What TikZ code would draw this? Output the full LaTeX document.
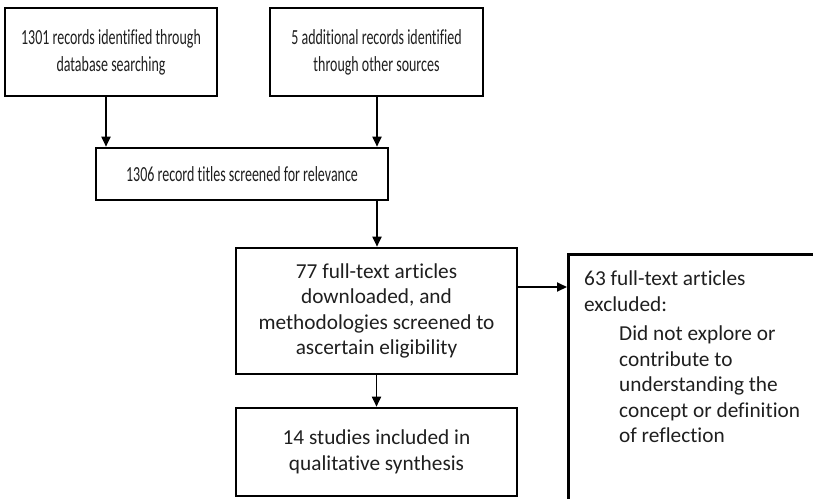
\documentclass[tikz,border=0pt]{standalone}
\usepackage{fontspec}
\setmainfont{Carlito}[RawFeature={-liga;-clig;-calt;-dlig}]
\newfontfamily\condfont{Carlito}[FakeStretch=0.65,RawFeature={-liga;-clig;-calt;-dlig}]
\usetikzlibrary{arrows.meta}
\begin{document}
\begin{tikzpicture}[x=1pt,y=-1pt,
  box/.style={draw=black,line width=2.6pt,rectangle,inner sep=0pt,align=center,text=black!88},
  topfont/.style={font=\condfont\fontsize{21.5}{27}\selectfont},
  botfont/.style={font=\fontsize{21.3}{25.5}\selectfont},
  arr/.style={draw=black,line width=1.8pt,-{Triangle[length=10pt,width=9pt]}}]
\useasboundingbox (0,0) rectangle (813,498);
\clip (0,0) rectangle (813,498);
\node[box,topfont,minimum width=212pt,minimum height=88pt] (box1) at (111,52)
  {1301 records identified through\\database searching};
\node[box,topfont,minimum width=213pt,minimum height=88pt] (box2) at (376.5,52)
  {5 additional records identified\\through other sources};
\node[box,topfont,minimum width=292pt,minimum height=52pt] (box3) at (242,174)
  {1306 record t{}itles screened for relevance};
\node[box,botfont,minimum width=281pt,minimum height=126pt] (box4) at (376.5,311)
  {77 full-text articles\\downloaded, and\\methodologies screened to\\ascertain eligibility};
\node[box,botfont,minimum width=281pt,minimum height=88pt] (box5) at (376.5,452)
  {14 studies included in\\qualitative synthesis};
\node[box,anchor=north west,minimum width=320pt,minimum height=320pt] (box6) at (567,253) {};
\node[anchor=north west,inner sep=0pt,align=left,botfont,text=black!88] (box6text) at (584,271)
  {63 full-text articles\\excluded:\\[4pt]
   \hspace*{35pt}Did not explore or\\
   \hspace*{35pt}contribute to\\
   \hspace*{35pt}understanding the\\
   \hspace*{35pt}concept or definit{}ion\\
   \hspace*{35pt}of reflect{}ion};
\coordinate (a1) at (106,0);
\coordinate (a2) at (377,0);
\coordinate (a3) at (0,287);
\draw[arr] (box1.south -| a1) -- (box3.north -| a1);
\draw[arr] (box2.south -| a2) -- (box3.north -| a2);
\draw[arr] (box3.south -| a2) -- (box4.north -| a2);
\draw[arr] (box4.south) -- (box5.north);
\draw[arr] (box4.east |- a3) -- (box6.west |- a3);
\end{tikzpicture}
\end{document}
